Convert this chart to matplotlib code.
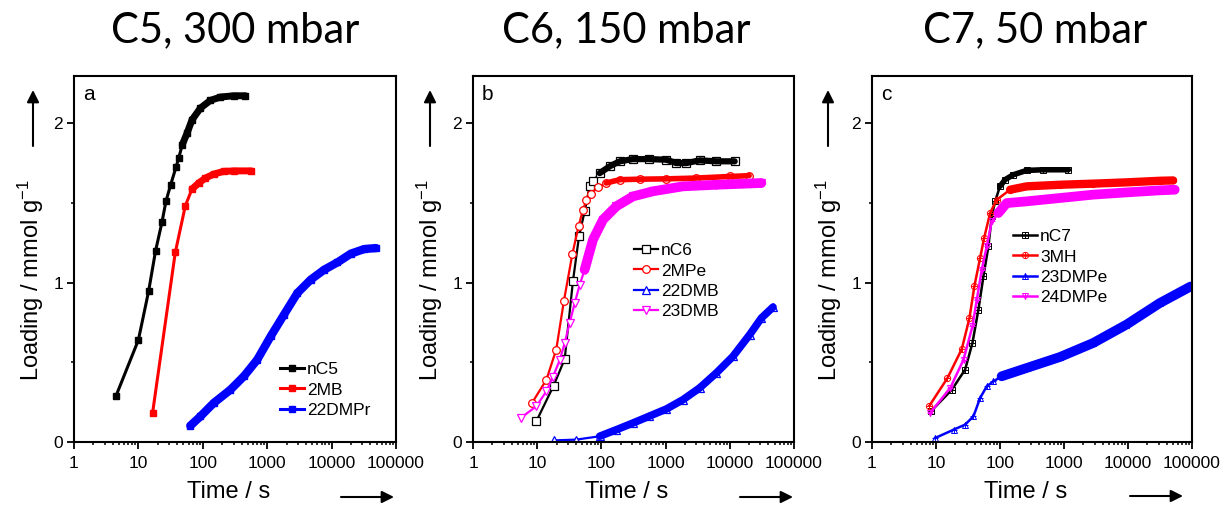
import numpy as np
import matplotlib.pyplot as plt
from matplotlib.ticker import FixedLocator, NullFormatter

plt.rcParams['font.family'] = ['Liberation Sans', 'DejaVu Sans']
plt.rcParams['mathtext.default'] = 'regular'

# ---- panel a: C5, 300 mbar ----
t_nc5 = [4.5, 10, 14.4, 18.5, 23.2, 26.8, 31.7, 38.4, 42.2, 48, 57, 68, 92, 131, 188, 302, 459]
q_nc5 = [0.29, 0.64, 0.945, 1.2, 1.377, 1.51, 1.613, 1.724, 1.78, 1.864, 1.937, 2.02, 2.094,
         2.142, 2.163, 2.171, 2.171]
t_2mb = [16.6, 37.4, 53.6, 68, 86.4, 110, 148, 212, 302, 565]
q_2mb = [0.182, 1.189, 1.482, 1.586, 1.624, 1.655, 1.68, 1.697, 1.70, 1.70]
t_22dmpr = [64, 92, 148, 269, 434, 700, 1130, 1820, 2940, 4740, 7650, 12300, 19900, 32100, 48800]
q_22dmpr = [0.102, 0.161, 0.245, 0.328, 0.412, 0.516, 0.662, 0.798, 0.934, 1.018, 1.08, 1.126,
            1.181, 1.21, 1.216]

# ---- panel b: C6, 150 mbar ----
t_nc6 = [9.7, 18, 26.8, 36.1, 44.8, 54.8, 65.6, 74, 94, 134, 193, 310, 560, 1030, 1470, 2100,
         3390, 6170, 11900]
q_nc6 = [0.13, 0.353, 0.52, 1.011, 1.289, 1.446, 1.603, 1.634, 1.686, 1.728, 1.76, 1.774, 1.774,
         1.77, 1.749, 1.749, 1.766, 1.76, 1.76]
t_2mpe = [8.3, 13.9, 19.8, 26.1, 35.3, 44.3, 51.7, 58.2, 69.6, 88.5, 119, 193, 400, 1000, 3000,
          10000, 20000]
q_2mpe = [0.245, 0.39, 0.58, 0.886, 1.179, 1.356, 1.457, 1.515, 1.557, 1.599, 1.624, 1.645, 1.648,
          1.65, 1.655, 1.665, 1.67]
t_22dmb = [18.3, 40.7, 94, 171, 310, 550, 1030, 1860, 3390, 6170, 11200, 20400, 31000, 47100]
q_22dmb = [0.01, 0.015, 0.036, 0.077, 0.119, 0.161, 0.207, 0.265, 0.339, 0.433, 0.537, 0.673,
           0.777, 0.846]
t_23dmb = [5.5, 9.7, 13.9, 17.6, 22.4, 26.8, 32, 38.4, 45.9, 54.8, 74, 106, 171, 310, 636, 1860,
           6170, 31000]
q_23dmb = [0.15, 0.224, 0.318, 0.41, 0.512, 0.621, 0.746, 0.871, 0.986, 1.08, 1.269, 1.394, 1.478,
           1.54, 1.572, 1.603, 1.613, 1.624]

# ---- panel c: C7, 50 mbar ----
t_nc7 = [8.3, 17.7, 28.5, 37.1, 46, 55.1, 65.9, 74.3, 83.8, 100, 120, 162, 261, 475, 1170]
q_nc7 = [0.192, 0.328, 0.454, 0.621, 0.83, 1.039, 1.227, 1.415, 1.509, 1.603, 1.645, 1.676, 1.703,
         1.707, 1.707]
t_3mh = [7.9, 15.1, 25.3, 33.3, 39.9, 48.9, 56.5, 70, 88.9, 144, 261, 865, 2860, 9460, 31300, 50600]
q_3mh = [0.228, 0.401, 0.583, 0.777, 0.98, 1.154, 1.279, 1.436, 1.519, 1.582, 1.603, 1.613, 1.62,
         1.628, 1.638, 1.64]
t_23dmpe = [9.7, 18.8, 28.5, 38.5, 48.9, 62.1, 78.9, 106, 261, 865, 2860, 9460, 31300, 95000]
q_23dmpe = [0.025, 0.077, 0.109, 0.161, 0.276, 0.349, 0.38, 0.412, 0.464, 0.533, 0.621, 0.736,
            0.871, 0.975]
t_24dmpe = [8.1, 16.7, 26.9, 37.1, 43.4, 51.9, 62.1, 74.3, 94.4, 127, 261, 865, 2860, 9460, 31300,
            53700]
q_24dmpe = [0.182, 0.339, 0.516, 0.725, 0.892, 1.08, 1.227, 1.383, 1.436, 1.498, 1.509, 1.53, 1.551,
            1.565, 1.578, 1.582]

titles = ['C5, 300 mbar', 'C6, 150 mbar', 'C7, 50 mbar']
letters = ['a', 'b', 'c']

# series: label, t, q, colour, marker, band start, band width
panels = [
    [('nC5', t_nc5, q_nc5, 'black', 's', 45, 5),
     ('2MB', t_2mb, q_2mb, 'red', 's', 60, 5),
     ('22DMPr', t_22dmpr, q_22dmpr, 'blue', 's', 0, 6)],
    [('nC6', t_nc6, q_nc6, 'black', 's', 90, 4.5),
     ('2MPe', t_2mpe, q_2mpe, 'red', 'o', 110, 4),
     ('22DMB', t_22dmb, q_22dmb, 'blue', '^', 80, 5.5),
     ('23DMB', t_23dmb, q_23dmb, 'magenta', 'v', 50, 7)],
    [('nC7', t_nc7, q_nc7, 'black', 's', 90, 4),
     ('3MH', t_3mh, q_3mh, 'red', 'o', 100, 6),
     ('23DMPe', t_23dmpe, q_23dmpe, 'blue', '^', 90, 7),
     ('24DMPe', t_24dmpe, q_24dmpe, 'magenta', 'v', 80, 7)],
]

W, H = 1228, 509
fig = plt.figure(figsize=(W / 100, H / 100), dpi=100)

# axes boxes in pixels: left, right
boxes = [(74, 396), (473, 794), (872, 1192)]
top, bottom = 76, 442
title_x = [235, 626, 1035]
ylab_x = [31, 430, 829]
uparrow_x = [33, 430, 828]
rarrow = [(341, 394, 497), (740, 793, 497), (1130, 1183, 496)]
legend_pos = [(280, 362), (634, 243), (1013, 229)]

for i, (l, r) in enumerate(boxes):
    ax = fig.add_axes([l / W, 1 - bottom / H, (r - l) / W, (bottom - top) / H])
    handles, labels = [], []
    for name, t, q, c, m, tb, bw in panels[i]:
        t = np.array(t)
        q = np.array(q)
        if i == 0:
            ln, = ax.plot(t, q, color=c, lw=2.2, marker=m, ms=5, mfc=c, mec=c)
            h = ln
        elif i == 1:
            ln, = ax.plot(t, q, color=c, lw=1.6, marker=m, ms=5.5, mfc='white', mec=c,
                          mew=0.9)
            h = ln
        else:
            ln, = ax.plot(t, q, color=c, lw=1.8, marker=m, ms=4.5, mfc='none', mec=c, mew=0.7)
            pl, = ax.plot(t, q, ls='none', marker='+', ms=4.5, mec=c, mew=0.7)
            h = (ln, pl)
        # dense, overlapping markers show up as a thick band
        sel = t >= tb
        ax.plot(t[sel], q[sel], color=c, lw=bw, solid_capstyle='round',
                solid_joinstyle='round', zorder=ln.get_zorder())
        handles.append(h)
        labels.append(name)

    ax.set_xscale('log')
    ax.set_xlim(1, 1e5)
    ax.set_ylim(0, 2.295)
    ax.set_xticks([1, 10, 100, 1000, 10000, 100000])
    ax.set_xticklabels(['1', '10', '100', '1000', '10000', '100000'])
    ax.xaxis.set_minor_locator(FixedLocator(
        [d * k for d in [1, 10, 100, 1000, 10000] for k in range(2, 10)]))
    ax.xaxis.set_minor_formatter(NullFormatter())
    ax.set_yticks([0, 1, 2])
    ax.set_yticks([0.5, 1.5], minor=True)
    ax.tick_params(which='major', direction='out', length=5, width=1.3, labelsize=12.5, pad=3)
    ax.tick_params(axis='x', which='major', pad=5)
    ax.tick_params(which='minor', direction='out', length=2.5, width=1.1)
    ax.tick_params(top=False, right=False, which='both')
    for s in ax.spines.values():
        s.set_linewidth(1.5)

    ax.text(0.028, 0.975, letters[i], transform=ax.transAxes, fontsize=15, va='top', ha='left')

    lx, ly = legend_pos[i]
    ax.legend(handles, labels, loc='upper left',
              bbox_to_anchor=((lx - l) / (r - l), (bottom - ly) / (bottom - top)),
              frameon=False, fontsize=12.5, borderpad=0, borderaxespad=0,
              handlelength=1.4, handletextpad=0.15, labelspacing=0.3, numpoints=1)

    ax.text(0.48, -0.137, 'Time / s', transform=ax.transAxes, fontsize=17,
            ha='center', va='center')

    fig.text(title_x[i] / W, 1 - 42 / H, titles[i], fontsize=30, family='Lato',
             ha='center', va='baseline')
    fig.text(ylab_x[i] / W, 1 - 280 / H, 'Loading / mmol g$^{-1}$', fontsize=17,
             rotation=90, ha='center', va='center')

    ux = uparrow_x[i] / W
    ax.annotate('', xy=(ux, 1 - 90 / H), xytext=(ux, 1 - 146 / H),
                xycoords='figure fraction', textcoords='figure fraction',
                arrowprops=dict(arrowstyle='-|>', color='black', lw=1.5, mutation_scale=18,
                                shrinkA=0, shrinkB=0))
    x0, x1, yy = rarrow[i]
    ax.annotate('', xy=(x1 / W, 1 - yy / H), xytext=(x0 / W, 1 - yy / H),
                xycoords='figure fraction', textcoords='figure fraction',
                arrowprops=dict(arrowstyle='-|>', color='black', lw=1.5, mutation_scale=18,
                                shrinkA=0, shrinkB=0))

fig.savefig('out.png', dpi=100)
